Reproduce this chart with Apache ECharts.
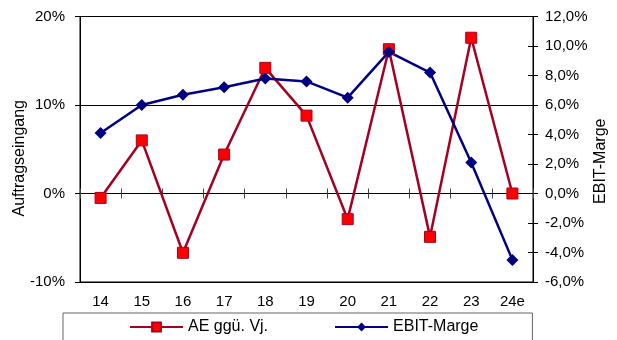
<!DOCTYPE html>
<html><head><meta charset="utf-8">
<script src="https://cdn.jsdelivr.net/npm/echarts@6/dist/echarts.min.js"></script>
<style>html,body{margin:0;padding:0;background:#fff}#c{width:617px;height:340px}</style>
</head><body><div id="c"></div>
<script>
const categories = ['14','15','16','17','18','19','20','21','22','23','24e'];
const aeValues = [-0.5, 6.0, -6.7, 4.4, 14.2, 8.8, -2.9, 16.3, -4.9, 17.6, 0.0];
const ebitValues = [4.1, 6.0, 6.7, 7.2, 7.8, 7.6, 6.5, 9.6, 8.2, 2.1, -4.5];
const leftTicks = {min: -10, max: 20, interval: 10};
const rightTicks = {min: -6, max: 12, interval: 2};
const seriesNames = ['AE ggü. Vj.', 'EBIT-Marge'];

const FONT = 'Liberation Sans';
const chart = echarts.init(document.getElementById('c'), null, {renderer: 'canvas'});
const txt = {color: '#000', fontFamily: FONT, fontSize: 15};
const ttl = {color: '#000', fontFamily: FONT, fontSize: 16};

chart.setOption({
  animation: false,
  backgroundColor: '#fff',
  grid: {left: 80, right: 84, top: 16.5, bottom: 58, show: true, borderColor: '#000', borderWidth: 1,
         backgroundColor: 'transparent', containLabel: false, outerBoundsMode: 'none'},
  legend: {
    data: seriesNames,
    left: 63, top: 313,
    orient: 'horizontal',
    itemWidth: 53, itemHeight: 11, itemGap: 66,
    padding: [6, 54, 30, 66],
    borderColor: '#666', borderWidth: 1,
    textStyle: {color: '#000', fontFamily: FONT, fontSize: 16}
  },
  xAxis: [
    {type: 'category', data: categories, position: 'bottom', boundaryGap: true,
     axisLine: {show: false}, axisTick: {show: false},
     axisLabel: Object.assign({margin: 12}, txt)},
    {type: 'category', data: categories, position: 'bottom', boundaryGap: true,
     axisLine: {show: true, onZero: true, onZeroAxisIndex: 0, lineStyle: {color: '#000', width: 1}},
     axisTick: {show: true, inside: true, length: 5, lineStyle: {color: '#444', width: 1}},
     axisLabel: {show: false}},
    {type: 'category', data: categories, position: 'bottom', boundaryGap: true,
     axisLine: {show: false, onZero: true, onZeroAxisIndex: 0},
     axisTick: {show: true, inside: false, length: 5, lineStyle: {color: '#444', width: 1}},
     axisLabel: {show: false}}
  ],
  yAxis: [
    {type: 'value', position: 'left', min: leftTicks.min, max: leftTicks.max, interval: leftTicks.interval,
     name: 'Auftragseingang', nameLocation: 'middle', nameGap: 52, nameRotate: 90, nameMoveOverlap: false,
     nameTextStyle: Object.assign({padding: [0, 18, 0, 0]}, ttl),
     axisLine: {show: true, lineStyle: {color: '#000', width: 1}},
     axisTick: {show: true, length: 5, lineStyle: {color: '#000'}},
     axisLabel: Object.assign({margin: 15, formatter: '{value}%'}, txt),
     splitLine: {show: true, lineStyle: {color: '#000', width: 1}}},
    {type: 'value', position: 'right', min: rightTicks.min, max: rightTicks.max, interval: rightTicks.interval,
     name: 'EBIT-Marge', nameLocation: 'middle', nameGap: 60, nameRotate: 90, nameMoveOverlap: false,
     nameTextStyle: Object.assign({padding: [0, 24, 0, 0]}, ttl),
     axisLine: {show: true, lineStyle: {color: '#000', width: 1}},
     axisTick: {show: true, length: 5, lineStyle: {color: '#000'}},
     axisLabel: Object.assign({margin: 12, formatter: v => v.toFixed(1).replace('.', ',') + '%'}, txt),
     splitLine: {show: false}},
    {type: 'value', position: 'right', min: rightTicks.min, max: rightTicks.max, interval: rightTicks.interval,
     axisLine: {show: false},
     axisTick: {show: true, inside: true, length: 5, lineStyle: {color: '#000'}},
     axisLabel: {show: false},
     splitLine: {show: false}}
  ],
  series: [
    {name: seriesNames[0], type: 'line', data: aeValues, xAxisIndex: 0, yAxisIndex: 0,
     symbol: 'rect', symbolSize: 11, showAllSymbol: true,
     lineStyle: {color: '#A50021', width: 2.5},
     itemStyle: {color: '#FF0000', borderColor: '#A50021', borderWidth: 1}},
    {name: seriesNames[1], type: 'line', data: ebitValues, xAxisIndex: 0, yAxisIndex: 1,
     symbol: 'diamond', symbolSize: 12, showAllSymbol: true,
     lineStyle: {color: '#000080', width: 2.5},
     itemStyle: {color: '#000080', borderColor: '#000080', borderWidth: 0}}
  ]
});
</script></body></html>
